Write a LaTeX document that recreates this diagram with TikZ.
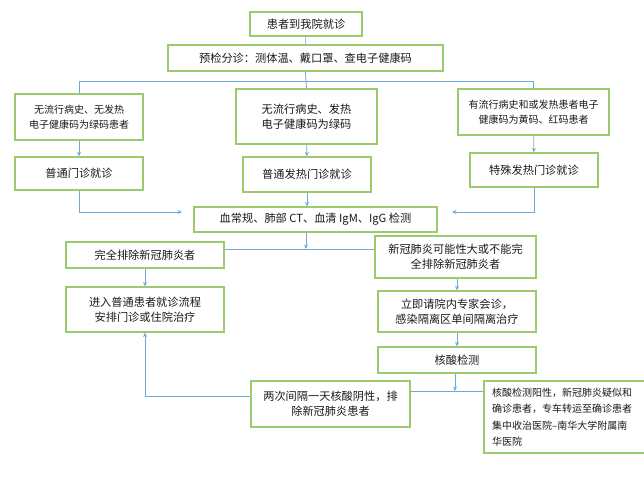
\documentclass[tikz,border=0pt]{standalone}
\usepackage{fontspec}
\newfontfamily\cjk{Noto Sans CJK SC}
\usetikzlibrary{positioning, arrows.meta}
\definecolor{boxgreen}{HTML}{9CCB6E}
\definecolor{linkblue}{HTML}{6FA8DC}

\begin{document}
\begin{tikzpicture}[x=1pt, y=-1pt,
fnode/.style={rectangle, draw=boxgreen, line width=1.3pt, inner sep=0pt, align=center,
  text=black!90, font=\cjk\fontsize{11.2}{15}\selectfont},
snode/.style={fnode, font=\cjk\fontsize{10}{15}\selectfont},
link/.style={draw=linkblue, line width=0.8pt},
arr/.style={link, -{Stealth[length=4.5pt, width=4pt]}},
]
\useasboundingbox (0,0) rectangle (644,476);

\node[fnode, minimum width=112pt, minimum height=24pt] (visit)    at (306,24)      {患者到我院就诊};
\node[fnode, minimum width=275pt, minimum height=26pt] (triage)   at (305.5,58)    {预检分诊：测体温、戴口罩、查电子健康码};

\node[snode, minimum width=128pt, minimum height=46pt] (nofever)  at (79,117)      {无流行病史、无发热\\电子健康码为绿码患者};
\node[fnode, minimum width=141pt, minimum height=55pt] (fever)    at (306.5,116.5) {无流行病史、发热\\电子健康码为绿码};
\node[snode, minimum width=151pt, minimum height=46pt] (risk)     at (533.5,112)   {有流行病史和或发热患者电子\\健康码为黄码、红码患者};

\node[fnode, minimum width=128pt, minimum height=33pt] (clinic)      at (79,173.5)  {普通门诊就诊};
\node[fnode, minimum width=128pt, minimum height=35pt] (feverclinic) at (307,174.5) {普通发热门诊就诊};
\node[fnode, minimum width=128pt, minimum height=34pt] (special)     at (534,170)   {特殊发热门诊就诊};

\node[fnode, minimum width=243pt, minimum height=25pt] (blood)    at (315.5,219.5) {血常规、肺部 CT、血清 IgM、IgG 检测};

\node[fnode, minimum width=158pt, minimum height=26pt] (exclude)  at (145,255)     {完全排除新冠肺炎者};
\node[fnode, minimum width=161pt, minimum height=42pt] (possible) at (455.5,257)   {新冠肺炎可能性大或不能完\\全排除新冠肺炎者};
\node[fnode, minimum width=158pt, minimum height=45pt] (normal)   at (145,309.5)   {进入普通患者就诊流程\\安排门诊或住院治疗};
\node[fnode, minimum width=158pt, minimum height=41pt] (expert)   at (457,311.5)   {立即请院内专家会诊，\\感染隔离区单间隔离治疗};
\node[fnode, minimum width=158pt, minimum height=26pt] (nucleic)  at (457,360)     {核酸检测};
\node[fnode, minimum width=159pt, minimum height=46pt] (negative) at (330.5,404)   {两次间隔一天核酸阴性，排\\除新冠肺炎患者};
\node[snode, minimum width=162pt, minimum height=72pt, text width=146pt, align=left,
  font=\cjk\fontsize{10}{16.5}\selectfont] (positive) at (565,417)
  {核酸检测阳性，新冠肺炎疑似和\\确诊患者，专车转运至确诊患者\\集中收治医院–南华大学附属南\\华医院};

\coordinate (split)  at (306,81);
\coordinate (inl)    at (182,212);
\coordinate (inr)    at (452,212);
\coordinate (merge)  at (306,249);
\coordinate (merge2) at (455,391);

\draw[link] (visit) -- (triage);
\draw[link] (triage.south) -- (split);
\draw[link] (split) -| (nofever.north);
\draw[link] (split) -| (risk.north);
\draw[link] (split) -- (fever.north);

\draw[arr] (nofever) -- (clinic);
\draw[arr] (fever) -- (feverclinic);
\draw[arr] (risk) -- (special);

\draw[arr] (clinic.south) |- (inl);
\draw[arr] (special.south) |- (inr);
\draw[arr] (feverclinic.south) -- (feverclinic.south |- blood.north);

% split after the tests
\draw[arr] (merge |- blood.south) -- (merge);
\draw[link] (exclude.east |- merge) -- (possible.west |- merge);
\draw[arr] (exclude) -- (normal);
\draw[arr] (possible.south -| expert) -- (expert);
\draw[arr] (expert) -- (nucleic);

% nucleic acid result
\draw[arr] (nucleic.south -| merge2) -- (merge2);
\draw[link] (negative.east |- merge2) -- (positive.west |- merge2);
\draw[arr] ([yshift=8pt]negative.west) -| (normal.south);

\end{tikzpicture}
\end{document}
